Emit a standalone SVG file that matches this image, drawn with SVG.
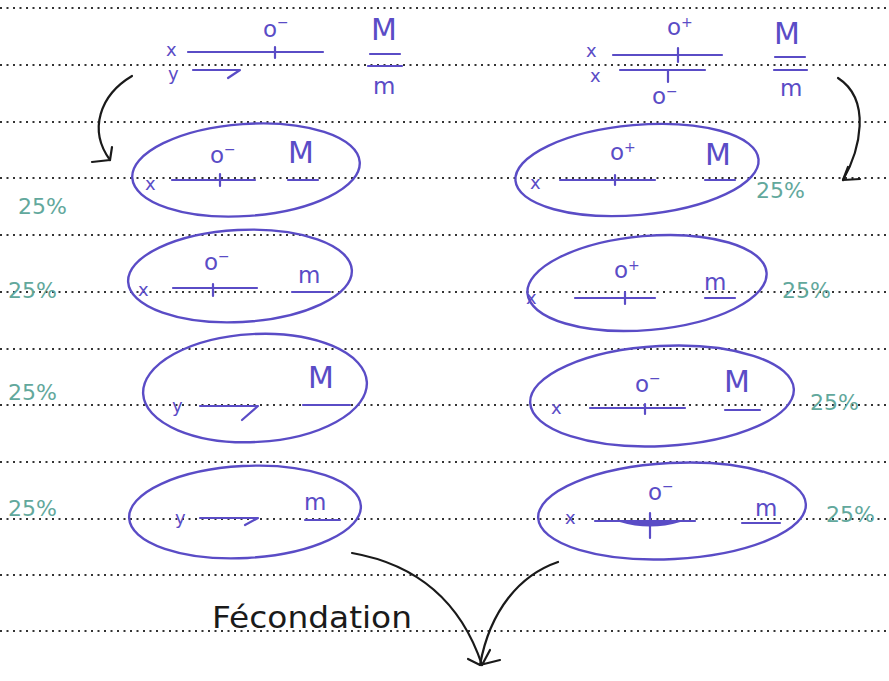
<svg xmlns="http://www.w3.org/2000/svg" width="889" height="681" viewBox="0 0 889 681">
<defs>
<style>
.rule{stroke:#333;stroke-width:2.2;stroke-dasharray:2 4.5;fill:none}
.ink{stroke:#5a4cc6;stroke-width:2.2;fill:none;stroke-linecap:round;stroke-linejoin:round}
.ell{stroke:#5a4cc6;stroke-width:2.4;fill:none}
.t{fill:#5a4cc6;font-family:"DejaVu Sans","Noto Sans",sans-serif}
.big{font-size:30px}
.mid{font-size:23px}
.sm{font-size:18px}
.pct{fill:#62a89c;font-family:"DejaVu Sans","Noto Sans",sans-serif;font-size:22px}
.blk{stroke:#1a1a1a;stroke-width:2.2;fill:none;stroke-linecap:round;stroke-linejoin:round}
</style>
</defs>
<rect width="889" height="681" fill="#ffffff"/>
<g id="rules">
<line class="rule" x1="0" y1="8" x2="889" y2="8"/>
<line class="rule" x1="0" y1="65" x2="889" y2="65"/>
<line class="rule" x1="0" y1="122" x2="889" y2="122"/>
<line class="rule" x1="0" y1="178" x2="889" y2="178"/>
<line class="rule" x1="0" y1="235" x2="889" y2="235"/>
<line class="rule" x1="0" y1="292" x2="889" y2="292"/>
<line class="rule" x1="0" y1="349" x2="889" y2="349"/>
<line class="rule" x1="0" y1="405" x2="889" y2="405"/>
<line class="rule" x1="0" y1="462" x2="889" y2="462"/>
<line class="rule" x1="0" y1="519" x2="889" y2="519"/>
<line class="rule" x1="0" y1="575" x2="889" y2="575"/>
<line class="rule" x1="0" y1="631" x2="889" y2="631"/>
</g>
<g id="parent-left">
<text class="t sm" x="166" y="56">x</text>
<path class="ink" d="M188 52 L323 52 M275 47 L275 58"/>
<text class="t mid" x="263" y="37">o<tspan font-size="14" dy="-10">−</tspan></text>
<text class="t sm" x="168" y="80">y</text>
<path class="ink" d="M193 70 L240 70 L228 78"/>
<text class="t big" x="371" y="40">M</text>
<path class="ink" d="M370 54 L400 54 M368 66 L402 66"/>
<text class="t mid" x="373" y="94">m</text>
</g>
<g id="parent-right">
<text class="t sm" x="586" y="57">x</text>
<path class="ink" d="M613 55 L722 55 M678 48 L678 62"/>
<text class="t mid" x="667" y="35">o<tspan font-size="14" dy="-8">+</tspan></text>
<text class="t sm" x="590" y="82">x</text>
<path class="ink" d="M620 70 L705 70 M668 70 L668 82"/>
<text class="t mid" x="652" y="104">o<tspan font-size="14" dy="-8">−</tspan></text>
<text class="t big" x="774" y="44">M</text>
<path class="ink" d="M775 57 L805 57 M774 70 L807 70"/>
<text class="t mid" x="780" y="96">m</text>
</g>
<g id="gamete-left-1">
<ellipse class="ell" cx="246" cy="170" rx="114" ry="46" transform="rotate(-4 246 170)"/>
<text class="t sm" x="145" y="190">x</text>
<path class="ink" d="M172 180 L255 180 M220 174 L220 186"/>
<text class="t mid" x="210" y="163">o<tspan font-size="14" dy="-9">−</tspan></text>
<text class="t big" x="288" y="163">M</text>
<path class="ink" d="M288 180 L318 180"/>
<text class="pct" x="18" y="214">25%</text>
</g>
<g id="gamete-left-2">
<ellipse class="ell" cx="240" cy="276" rx="112" ry="46" transform="rotate(-3 240 276)"/>
<text class="t sm" x="138" y="296">x</text>
<path class="ink" d="M173 288 L257 288 M213 284 L213 296"/>
<text class="t mid" x="204" y="270">o<tspan font-size="14" dy="-9">−</tspan></text>
<text class="t mid" x="298" y="283">m</text>
<path class="ink" d="M292 292 L330 292"/>
<text class="pct" x="8" y="298">25%</text>
</g>
<g id="gamete-left-3">
<ellipse class="ell" cx="255" cy="388" rx="112" ry="54" transform="rotate(-3 255 388)"/>
<text class="t sm" x="172" y="412">y</text>
<path class="ink" d="M200 406 L258 406 L242 420"/>
<text class="t big" x="308" y="388">M</text>
<path class="ink" d="M303 405 L350 405"/>
<text class="pct" x="8" y="400">25%</text>
</g>
<g id="gamete-left-4">
<ellipse class="ell" cx="245" cy="512" rx="116" ry="46" transform="rotate(-3 245 512)"/>
<text class="t sm" x="175" y="524">y</text>
<path class="ink" d="M200 518 L258 518 L245 525"/>
<text class="t mid" x="304" y="510">m</text>
<path class="ink" d="M305 520 L340 520"/>
<text class="pct" x="8" y="516">25%</text>
</g>
<g id="gamete-right-1">
<ellipse class="ell" cx="637" cy="170" rx="122" ry="45" transform="rotate(-5 637 170)"/>
<text class="t sm" x="530" y="189">x</text>
<path class="ink" d="M560 180 L655 180 M615 175 L615 185"/>
<text class="t mid" x="610" y="160">o<tspan font-size="14" dy="-8">+</tspan></text>
<text class="t big" x="705" y="165">M</text>
<path class="ink" d="M705 180 L735 180"/>
<text class="pct" x="756" y="198">25%</text>
</g>
<g id="gamete-right-2">
<ellipse class="ell" cx="647" cy="283" rx="120" ry="47" transform="rotate(-5 647 283)"/>
<text class="t sm" x="526" y="304">x</text>
<path class="ink" d="M575 298 L655 298 M625 292 L625 304"/>
<text class="t mid" x="614" y="278">o<tspan font-size="14" dy="-8">+</tspan></text>
<text class="t mid" x="704" y="290">m</text>
<path class="ink" d="M705 298 L735 298"/>
<text class="pct" x="782" y="298">25%</text>
</g>
<g id="gamete-right-3">
<ellipse class="ell" cx="662" cy="396" rx="132" ry="50" transform="rotate(-3 662 396)"/>
<text class="t sm" x="551" y="414">x</text>
<path class="ink" d="M590 408 L685 408 M645 404 L645 414"/>
<text class="t mid" x="635" y="392">o<tspan font-size="14" dy="-9">−</tspan></text>
<text class="t big" x="724" y="392">M</text>
<path class="ink" d="M725 410 L760 410"/>
<text class="pct" x="810" y="410">25%</text>
</g>
<g id="gamete-right-4">
<ellipse class="ell" cx="672" cy="511" rx="134" ry="48" transform="rotate(-3 672 511)"/>
<text class="t sm" x="565" y="524">x</text>
<path class="ink" d="M595 521 L695 521 M650 513 L650 538"/>
<path d="M620 521 Q650 530 680 521 Z" fill="#5a4cc6" stroke="#5a4cc6" stroke-width="2"/>
<text class="t mid" x="648" y="500">o<tspan font-size="14" dy="-9">−</tspan></text>
<text class="t mid" x="755" y="516">m</text>
<path class="ink" d="M742 523 L780 523"/>
<text class="pct" x="826" y="522">25%</text>
</g>
<g id="connectors">
<path class="blk" d="M132 76 C100 95 88 130 110 160"/>
<path class="blk" d="M110 160 L92 162 M110 160 L112 147"/>
<path class="blk" d="M838 78 C872 100 860 150 843 180"/>
<path class="blk" d="M843 180 L848 167 M843 180 L860 179"/>
<path class="blk" d="M352 553 C420 565 462 605 482 665"/>
<path class="blk" d="M558 562 C520 575 490 610 480 665"/>
<path class="blk" d="M480 665 L468 659 M480 665 L500 660 M482 665 L490 650"/>
</g>
<g id="label-fecondation">
<text x="212" y="628" font-family="DejaVu Sans, sans-serif" font-size="30" fill="#1a1a1a" textLength="200" lengthAdjust="spacingAndGlyphs">Fécondation</text>
</g>
</svg>
